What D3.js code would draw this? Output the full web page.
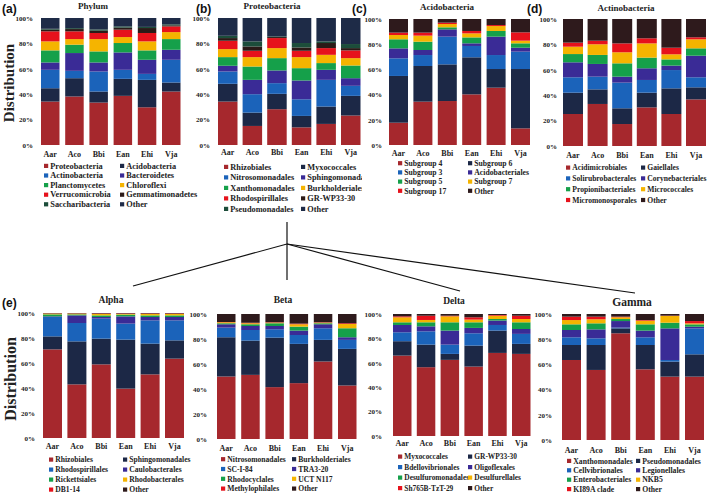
<!DOCTYPE html>
<html>
<head>
<meta charset="utf-8">
<script src="https://cdn.jsdelivr.net/npm/d3@7"></script>
<style>
  html, body { margin: 0; padding: 0; background: #fff; }
  svg { display: block; }
  text { font-family: 'Liberation Serif', 'Times New Roman', serif; font-weight: bold; fill: #222; }
  .plabel { font-family: 'Liberation Sans', Arial, sans-serif; fill: #111; }
</style>
</head>
<body>
<svg id="chart" width="709" height="494"></svg>
<script>
"use strict";

// ---- data (percent of reads, one row per sample, in legend order) ----
const samples = ['Aar', 'Aco', 'Bbi', 'Ean', 'Ehi', 'Vja'];
const yTicks = [0, 20, 40, 60, 80, 100];

const phylumTaxa = ['Proteobacteria', 'Acidobacteria', 'Actinobacteria', 'Bacteroidetes',
  'Planctomycetes', 'Chloroflexi', 'Verrucomicrobia', 'Gemmatimonadetes', 'Saccharibacteria', 'Other'];
const phylumValues = [
  [34.2, 10.5, 14.5, 5.8, 9.5, 7.1, 7.9, 1.3, 0.7, 8.5],
  [38.2, 14.4, 5.8, 14.0, 6.6, 4.4, 6.1, 1.8, 0.7, 8.0],
  [33.4, 8.7, 15.8, 7.1, 8.7, 9.7, 4.8, 1.8, 1.0, 9.0],
  [38.7, 13.4, 7.1, 13.7, 7.4, 4.7, 5.8, 1.6, 1.0, 6.6],
  [29.7, 21.6, 4.7, 11.1, 7.4, 7.1, 6.6, 3.9, 0.9, 7.0],
  [42.1, 7.1, 17.9, 7.9, 8.4, 5.5, 4.5, 0.8, 0.8, 5.0]
];

const proteoTaxa = ['Rhizobiales', 'Myxococcales', 'Nitrosomonadales', 'Sphingomonadales',
  'Xanthomonadales', 'Burkholderiales', 'Rhodospirillales', 'GR-WP33-30', 'Pseudomonadales', 'Other'];
const proteoValues = [
  [34.2, 14.0, 9.7, 4.5, 6.8, 6.3, 6.6, 2.1, 1.8, 14.0],
  [15.0, 10.5, 14.5, 11.3, 10.5, 7.4, 5.0, 3.4, 4.0, 18.4],
  [28.2, 12.1, 8.4, 10.0, 9.7, 7.9, 7.9, 0.8, 0.5, 14.5],
  [13.9, 9.0, 13.1, 14.8, 9.7, 8.7, 5.0, 2.6, 3.5, 19.7],
  [16.6, 13.7, 21.0, 7.9, 5.3, 6.5, 5.3, 4.0, 1.3, 18.4],
  [23.2, 15.5, 7.9, 6.0, 10.0, 5.8, 6.1, 1.8, 3.2, 20.5]
];

const acidoTaxa = ['Subgroup 4', 'Subgroup 6', 'Subgroup 3', 'Acidobacteriales',
  'Subgroup 5', 'Subgroup 7', 'Subgroup 17', 'Other'];
const acidoValues = [
  [17.7, 37.1, 14.0, 7.9, 7.2, 3.4, 1.9, 10.8],
  [34.4, 28.3, 8.7, 4.0, 6.6, 4.8, 2.4, 10.8],
  [34.9, 29.1, 22.0, 5.8, 1.6, 2.6, 1.1, 2.9],
  [40.2, 29.4, 9.0, 2.1, 4.7, 3.2, 1.9, 9.5],
  [45.5, 14.8, 11.1, 14.6, 4.5, 3.9, 0.8, 4.8],
  [13.2, 47.1, 13.8, 3.1, 3.5, 2.1, 6.6, 10.6]
];

const actinoTaxa = ['Acidimicrobiales', 'Gaiellales', 'Solirubrobacterales', 'Corynebacteriales',
  'Propionibacteriales', 'Micrococcales', 'Micromonosporales', 'Other'];
const actinoValues = [
  [25.2, 16.8, 12.1, 11.8, 6.5, 5.8, 3.2, 18.6],
  [33.1, 11.5, 10.0, 10.0, 7.1, 8.4, 2.8, 17.1],
  [17.3, 12.4, 20.2, 4.7, 10.5, 8.7, 7.0, 19.2],
  [30.4, 11.6, 10.0, 9.2, 8.4, 11.2, 4.0, 15.2],
  [25.2, 20.2, 14.4, 3.5, 4.9, 4.0, 5.2, 22.6],
  [36.7, 9.5, 7.9, 17.0, 5.8, 7.1, 1.6, 14.4]
];

const alphaTaxa = ['Rhizobiales', 'Sphingomonadales', 'Rhodospirillales', 'Caulobacterales',
  'Rickettsiales', 'Rhodobacterales', 'DB1-14', 'Other'];
const alphaValues = [
  [70.9, 10.4, 15.5, 0.5, 1.6, 0.6, 0.2, 0.3],
  [42.9, 34.4, 14.7, 6.1, 0.8, 0.6, 0.2, 0.3],
  [58.9, 20.6, 16.0, 1.3, 1.3, 1.1, 0.4, 0.4],
  [39.5, 39.2, 12.8, 5.8, 1.4, 0.5, 0.4, 0.4],
  [50.9, 24.6, 18.6, 2.7, 1.3, 1.1, 0.4, 0.4],
  [63.5, 14.6, 16.0, 2.7, 1.3, 1.1, 0.4, 0.4]
];

const betaTaxa = ['Nitrosomonadales', 'Burkholderiales', 'SC-I-84', 'TRA3-20',
  'Rhodocyclales', 'UCT N117', 'Methylophilales', 'Other'];
const betaValues = [
  [50.0, 31.4, 7.7, 2.7, 0.8, 0.8, 0.2, 6.4],
  [51.3, 27.4, 8.5, 3.2, 1.4, 0.8, 0.4, 7.0],
  [41.5, 39.6, 6.7, 2.6, 2.2, 0.5, 0.3, 6.6],
  [44.7, 31.4, 7.1, 3.5, 3.2, 1.9, 0.5, 7.7],
  [62.0, 17.3, 9.3, 3.2, 0.8, 0.5, 0.3, 6.6],
  [42.8, 29.3, 7.2, 2.1, 7.2, 3.4, 0.6, 7.4]
];

const deltaTaxa = ['Myxococcales', 'GR-WP33-30', 'Bdellovibrionales', 'Oligoflexales',
  'Desulfuromonadales', 'Desulfurellales', 'Sh765B-TzT-29', 'Other'];
const deltaValues = [
  [65.9, 11.8, 7.3, 6.0, 2.2, 4.1, 0.8, 1.9],
  [56.4, 18.5, 10.9, 4.1, 3.3, 1.9, 3.5, 1.4],
  [62.4, 4.9, 7.6, 11.5, 6.8, 4.9, 0.5, 1.4],
  [56.9, 17.2, 10.1, 4.4, 4.6, 2.2, 1.9, 2.7],
  [68.1, 18.3, 4.6, 3.6, 1.3, 2.7, 0.6, 0.8],
  [67.3, 8.2, 8.2, 4.0, 5.5, 2.7, 2.7, 1.4]
];

const gammaTaxa = ['Xanthomonadales', 'Pseudomonadales', 'Cellvibrionales', 'Legionellales',
  'Enterobacteriales', 'NKB5', 'KI89A clade', 'Other'];
const gammaValues = [
  [63.5, 11.9, 6.1, 5.8, 4.5, 3.4, 2.7, 2.1],
  [55.6, 19.8, 5.3, 7.1, 4.8, 3.2, 2.1, 2.1],
  [84.7, 3.9, 0.6, 5.2, 1.6, 1.4, 0.5, 2.1],
  [56.1, 19.3, 6.1, 5.3, 5.0, 2.9, 0.5, 4.8],
  [50.3, 11.9, 1.3, 25.1, 4.5, 5.3, 0.3, 1.3],
  [50.3, 17.7, 20.6, 1.3, 1.9, 0.8, 1.8, 5.6]
];

// ---- colours ----
const base = ['#a6282d', '#1c2846', '#1b63ba', '#3a2b96', '#15a04a', '#f5b400', '#e6121c'];
const colors10 = base.concat(['#2b1a17', '#1c4d3a', '#1e2b47']);
const colors8 = base.concat(['#2e1a1c']);

// ---- layout (pixel positions per panel) ----
const panels = [
  { tag: '(a)', tagX: 2, tagY: 13, title: 'Phylum', titleX: 93, titleY: 9, titleSize: 9,
    taxa: phylumTaxa, values: phylumValues, colors: colors10,
    barLeft: 41, step: 24.2, barW: 18.5, yTop: 18, yBot: 145, tickX: 33, xLabY: 151,
    legX: [44, 120], legY: 166, legDy: 9.6, legFont: 8.3, ylabel: { x: 9, y: 83, size: 15 } },
  { tag: '(b)', tagX: 196, tagY: 13, title: 'Proteobacteria', titleX: 272, titleY: 9, titleSize: 9,
    taxa: proteoTaxa, values: proteoValues, colors: colors10,
    barLeft: 218, step: 24.6, barW: 19.5, yTop: 18, yBot: 145, tickX: 210, xLabY: 149,
    legX: [224, 301], legY: 167, legDy: 10.5, legFont: 8.3, clip: [175, 362] },
  { tag: '(c)', tagX: 352, tagY: 13, title: 'Acidobacteria', titleX: 447, titleY: 10, titleSize: 9,
    taxa: acidoTaxa, values: acidoValues, colors: colors8,
    barLeft: 389, step: 24.4, barW: 19, yTop: 19, yBot: 145, tickX: 382, xLabY: 150,
    legX: [398, 468], legY: 163.3, legDy: 9.2, legFont: 7.7 },
  { tag: '(d)', tagX: 527, tagY: 13, title: 'Actinobacteria', titleX: 626, titleY: 11, titleSize: 9,
    taxa: actinoTaxa, values: actinoValues, colors: colors8,
    barLeft: 563, step: 24.6, barW: 20, yTop: 19, yBot: 146, tickX: 557, xLabY: 152,
    legX: [566, 641], legY: 167.7, legDy: 10.8, legFont: 7.6 },
  { tag: '(e)', tagX: 2, tagY: 307, title: 'Alpha', titleX: 111, titleY: 303, titleSize: 9.5,
    taxa: alphaTaxa, values: alphaValues, colors: colors8,
    barLeft: 43, step: 24.4, barW: 19, yTop: 313, yBot: 438, tickX: 35, xLabY: 443,
    legX: [49, 123], legY: 459.7, legDy: 10, legFont: 7.6, ylabel: { x: 10, y: 379, size: 16 } },
  { title: 'Beta', titleX: 283, titleY: 303, titleSize: 9.5,
    taxa: betaTaxa, values: betaValues, colors: colors8,
    barLeft: 217, step: 24.2, barW: 18.5, yTop: 314, yBot: 439, tickX: 207, xLabY: 445,
    legX: [221, 292], legY: 459.3, legDy: 9.8, legFont: 7.6 },
  { title: 'Delta', titleX: 454, titleY: 304, titleSize: 9.5,
    taxa: deltaTaxa, values: deltaValues, colors: colors8,
    barLeft: 393, step: 23.8, barW: 18.5, yTop: 314, yBot: 436, tickX: 382, xLabY: 440,
    legX: [398, 468], legY: 456.7, legDy: 10.5, legFont: 7.4 },
  { title: 'Gamma', titleX: 632, titleY: 306, titleSize: 11.5,
    taxa: gammaTaxa, values: gammaValues, colors: colors8,
    barLeft: 562, step: 24.6, barW: 19, yTop: 314, yBot: 440, tickX: 552, xLabY: 447,
    legX: [567, 636], legY: 461, legDy: 9.4, legFont: 7.7 }
];

const svg = d3.select('#chart');
svg.append('rect').attr('width', 709).attr('height', 494).attr('fill', '#fff');

// connector lines from Proteobacteria down to the four classes
const conn = svg.append('g').attr('stroke', '#111').attr('stroke-width', 1.2);
conn.append('line').attr('x1', 287).attr('y1', 222).attr('x2', 287).attr('y2', 280);
[[133, 286], [460, 291], [635, 293]].forEach(([x2, y2]) => {
  conn.append('line').attr('x1', 287).attr('y1', 244).attr('x2', x2).attr('y2', y2);
});

panels.forEach((p, pi) => drawPanel(p, pi));

function drawPanel(p, pi) {
  const g = svg.append('g');
  const pad = (p.step - p.barW) / p.step;
  const x0 = p.barLeft - (p.step - p.barW) / 2;

  const x = d3.scaleBand().domain(samples)
    .range([x0, x0 + samples.length * p.step])
    .paddingInner(pad).paddingOuter(pad / 2);
  const y = d3.scaleLinear().domain([0, 100]).range([p.yBot, p.yTop]);

  const rows = samples.map((s, i) => {
    const o = { sample: s };
    p.taxa.forEach((t, j) => { o[t] = p.values[i][j]; });
    return o;
  });
  const series = d3.stack().keys(p.taxa)(rows);

  g.append('g').selectAll('g').data(series).join('g')
    .attr('fill', (d, i) => p.colors[i])
    .selectAll('rect').data(d => d).join('rect')
      .attr('x', d => x(d.data.sample))
      .attr('y', d => y(d[1]))
      .attr('width', x.bandwidth())
      .attr('height', d => Math.max(0, y(d[0]) - y(d[1])));

  // y axis (labels only)
  const ya = g.append('g').attr('transform', 'translate(' + x0 + ',0)')
    .call(d3.axisLeft(y).tickValues(yTicks).tickSize(0)
      .tickPadding(x0 - p.tickX).tickFormat(d => d + '%'));
  ya.select('.domain').remove();
  ya.attr('font-family', null);
  ya.selectAll('text').attr('font-size', 7).attr('fill', '#333');

  // x axis (labels only)
  const xa = g.append('g').attr('transform', 'translate(0,' + p.yBot + ')')
    .call(d3.axisBottom(x).tickSize(0).tickPadding(p.xLabY - p.yBot));
  xa.select('.domain').remove();
  xa.attr('font-family', null);
  xa.selectAll('text').attr('font-size', 8).attr('fill', '#333');

  g.append('text').attr('x', p.titleX).attr('y', p.titleY)
    .attr('text-anchor', 'middle').attr('font-size', p.titleSize).text(p.title);

  if (p.tag) {
    g.append('text').attr('class', 'plabel').attr('x', p.tagX).attr('y', p.tagY)
      .attr('font-size', 12).text(p.tag);
  }

  if (p.ylabel) {
    g.append('text')
      .attr('transform', 'translate(' + (p.ylabel.x + p.ylabel.size * 0.35) + ',' + p.ylabel.y + ') rotate(-90)')
      .attr('text-anchor', 'middle').attr('font-size', p.ylabel.size).attr('fill', '#111')
      .text('Distribution');
  }

  // legend, two columns, row-major
  const leg = g.append('g');
  if (p.clip) {
    const id = 'clip' + pi;
    svg.append('clipPath').attr('id', id).append('rect')
      .attr('x', p.clip[0]).attr('y', 0).attr('width', p.clip[1] - p.clip[0]).attr('height', 494);
    leg.attr('clip-path', 'url(#' + id + ')');
  }
  const items = leg.selectAll('g').data(p.taxa).join('g')
    .attr('transform', (d, i) => 'translate(' + p.legX[i % 2] + ',' + (p.legY + Math.floor(i / 2) * p.legDy) + ')');
  items.append('rect').attr('x', 0).attr('y', -2.2).attr('width', 4.2).attr('height', 4.2)
    .attr('fill', (d, i) => p.colors[i]);
  items.append('text').attr('x', 6.3).attr('y', 2.6).attr('font-size', p.legFont).text(d => d);
}
</script>
</body>
</html>
